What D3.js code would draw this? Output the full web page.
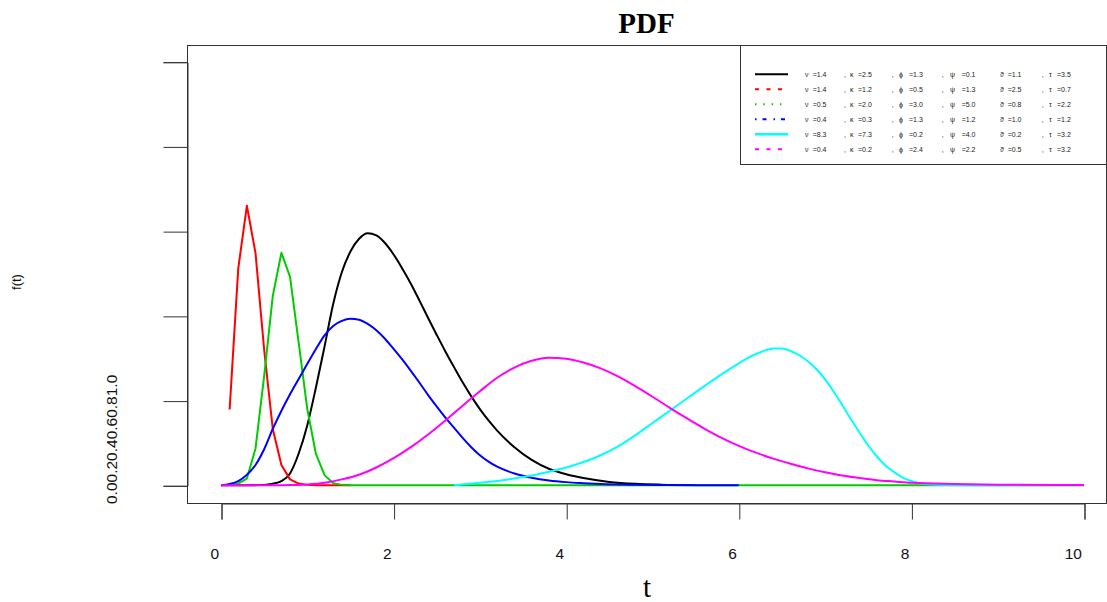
<!DOCTYPE html>
<html>
<head>
<meta charset="utf-8">
<script src="https://cdn.jsdelivr.net/npm/d3@7"></script>
<style>
  html, body { margin: 0; padding: 0; background: #fff; }
  svg { display: block; }
</style>
</head>
<body>
<svg id="chart" width="1107" height="602"></svg>
<script>
// ---- data ----
const xTicks = [0, 2, 4, 6, 8, 10];
const yTicks = [0, 0.2, 0.4, 0.6, 0.8, 1.0];
const yTickText = "0.00.20.40.60.81.0";

const tBlack = [0, 0.3, 0.5, 0.6, 0.7, 0.8, 0.9, 1.0, 1.1, 1.2, 1.3, 1.4, 1.5, 1.6, 1.7, 1.8, 1.9, 2.0, 2.1, 2.2, 2.3, 2.4, 2.5, 2.6, 2.7, 2.8, 2.9, 3.0, 3.1, 3.2, 3.4, 3.6, 3.8, 4.0, 4.2, 4.5, 4.8, 5.1, 5.5];
const vBlack = [0, 0, 0.001, 0.004, 0.010, 0.028, 0.075, 0.142, 0.231, 0.328, 0.428, 0.503, 0.552, 0.582, 0.595, 0.590, 0.572, 0.545, 0.512, 0.476, 0.436, 0.395, 0.355, 0.316, 0.279, 0.243, 0.210, 0.180, 0.153, 0.129, 0.090, 0.060, 0.039, 0.026, 0.017, 0.008, 0.0035, 0.0015, 0.0005];

const tRed = [0.1, 0.2, 0.3, 0.4, 0.5, 0.6, 0.7, 0.8, 0.9, 1.0, 1.1, 1.2, 1.3, 1.4, 1.5];
const vRed = [0.179, 0.512, 0.660, 0.548, 0.320, 0.133, 0.048, 0.014, 0.004, 0.001, 0, 0, 0, 0, 0];

const tGreen = [0, 0.1, 0.2, 0.3, 0.4, 0.5, 0.6, 0.7, 0.8, 0.9, 1.0, 1.1, 1.2, 1.3, 1.4, 1.5, 10];
const vGreen = [0, 0.0005, 0.004, 0.016, 0.087, 0.258, 0.447, 0.549, 0.492, 0.337, 0.180, 0.074, 0.024, 0.005, 0.001, 0, 0];

const tBlue = [0, 0.1, 0.2, 0.3, 0.4, 0.5, 0.6, 0.7, 0.8, 0.9, 1.0, 1.1, 1.2, 1.3, 1.4, 1.5, 1.6, 1.7, 1.8, 1.9, 2.0, 2.1, 2.2, 2.3, 2.4, 2.5, 2.6, 2.7, 2.8, 2.9, 3.0, 3.1, 3.2, 3.4, 3.6, 3.8, 4.0, 4.2, 4.4, 4.8, 5.2, 6.0];
const vBlue = [0, 0.003, 0.010, 0.025, 0.048, 0.085, 0.133, 0.176, 0.215, 0.251, 0.287, 0.322, 0.354, 0.376, 0.388, 0.393, 0.391, 0.381, 0.366, 0.346, 0.322, 0.297, 0.270, 0.242, 0.213, 0.186, 0.160, 0.136, 0.112, 0.090, 0.071, 0.056, 0.044, 0.028, 0.018, 0.0115, 0.0075, 0.005, 0.003, 0.0012, 0.0005, 0];

const tCyan = [2.7, 2.85, 3.0, 3.2, 3.4, 3.6, 3.8, 4.0, 4.2, 4.4, 4.6, 4.8, 5.0, 5.2, 5.4, 5.6, 5.8, 6.0, 6.1, 6.2, 6.3, 6.4, 6.5, 6.6, 6.7, 6.8, 6.9, 7.0, 7.1, 7.2, 7.3, 7.4, 7.5, 7.6, 7.7, 7.8, 7.9, 8.0, 8.1, 8.2, 8.4, 8.7, 10];
const vCyan = [0, 0.003, 0.006, 0.010, 0.016, 0.023, 0.032, 0.042, 0.055, 0.071, 0.092, 0.118, 0.147, 0.176, 0.205, 0.234, 0.262, 0.288, 0.300, 0.310, 0.318, 0.323, 0.323, 0.317, 0.307, 0.293, 0.274, 0.250, 0.221, 0.189, 0.156, 0.124, 0.094, 0.068, 0.047, 0.031, 0.018, 0.010, 0.005, 0.0025, 0.0005, 0, 0];

const tMagenta = [0, 0.6, 0.8, 1.0, 1.2, 1.4, 1.6, 1.8, 2.0, 2.2, 2.4, 2.6, 2.8, 3.0, 3.2, 3.4, 3.6, 3.8, 4.0, 4.2, 4.4, 4.6, 4.8, 5.0, 5.2, 5.4, 5.6, 5.8, 6.0, 6.2, 6.4, 6.6, 6.8, 7.0, 7.2, 7.4, 7.6, 7.8, 8.0, 8.5, 9.0, 10];
const vMagenta = [0, 0, 0.0005, 0.002, 0.006, 0.014, 0.025, 0.042, 0.064, 0.090, 0.120, 0.153, 0.188, 0.222, 0.254, 0.278, 0.294, 0.301, 0.299, 0.290, 0.276, 0.257, 0.234, 0.209, 0.183, 0.158, 0.134, 0.112, 0.093, 0.077, 0.063, 0.051, 0.040, 0.031, 0.023, 0.017, 0.012, 0.009, 0.006, 0.003, 0.0015, 0.0005];

const paramSymbols = ["ν", "κ", "ϕ", "ψ", "ϑ", "τ"];
const paramNu      = [1.4, 1.4, 0.5, 0.4, 8.3, 0.4];
const paramKappa   = [2.5, 1.2, 2.0, 0.3, 7.3, 0.2];
const paramPhi     = [1.3, 0.5, 3.0, 1.3, 0.2, 2.4];
const paramPsi     = [0.1, 1.3, 5.0, 1.2, 4.0, 2.2];
const paramTheta   = [1.1, 2.5, 0.8, 1.0, 0.2, 0.5];
const paramTau     = [3.5, 0.7, 2.2, 1.2, 3.2, 3.2];

const seriesColors = ["#000000", "#FF0000", "#00CD00", "#0000FF", "#00FFFF", "#FF00FF"];
const legendDash = [null, "4,7.5", "1.5,6.8", "1.5,6,4,7", null, "4,7.5"];

// ---- build ----
const svg = d3.select("#chart");
const sans = "'Liberation Sans', Arial, sans-serif";
const serif = "'Liberation Serif', 'Times New Roman', serif";

const x = d3.scaleLinear().domain([0, 10]).range([221, 1084]);
const y = d3.scaleLinear().domain([0, 1]).range([485.3, 61.7]);

const box = { x0: 187, x1: 1106, y0: 45, y1: 503 };

const series = [
  { t: tBlack, v: vBlack, curve: d3.curveMonotoneX },
  { t: tRed, v: vRed, curve: d3.curveLinear },
  { t: tGreen, v: vGreen, curve: d3.curveLinear },
  { t: tBlue, v: vBlue, curve: d3.curveMonotoneX },
  { t: tCyan, v: vCyan, curve: d3.curveMonotoneX },
  { t: tMagenta, v: vMagenta, curve: d3.curveMonotoneX }
].map((s, i) => ({ ...s, color: seriesColors[i], pts: s.t.map((tt, j) => [tt, s.v[j]]) }));

// density curves
series.forEach(s => {
  const line = d3.line().x(d => x(d[0])).y(d => y(d[1])).curve(s.curve);
  svg.append("path")
    .attr("d", line(s.pts))
    .attr("fill", "none")
    .attr("stroke", s.color)
    .attr("stroke-width", 2)
    .attr("stroke-linejoin", "round");
});

// plot frame
svg.append("rect")
  .attr("x", box.x0 + 0.5).attr("y", box.y0 + 0.5)
  .attr("width", box.x1 - box.x0).attr("height", box.y1 - box.y0)
  .attr("fill", "none").attr("stroke", "#333").attr("stroke-width", 1);

// x axis
const xAxis = d3.axisBottom(x).tickValues(xTicks).tickSize(16).tickFormat("");
const gx = svg.append("g").attr("transform", `translate(0.5,${box.y1 + 0.5})`).call(xAxis);
gx.select(".domain").attr("stroke", "#333");
gx.selectAll(".tick line").attr("stroke", "#333");
gx.selectAll(".tick").append("text")
  .attr("x", -3).attr("y", 55)
  .attr("text-anchor", "end")
  .attr("fill", "#111")
  .style("font-family", sans).style("font-size", "15.5px")
  .text(d => d);

// y axis
const yAxis = d3.axisLeft(y).tickValues(yTicks).tickSize(24).tickFormat("");
const gy = svg.append("g").attr("transform", `translate(${box.x0 + 0.5},0.5)`).call(yAxis);
gy.select(".domain").attr("stroke", "#333");
gy.selectAll(".tick line").attr("stroke", "#333");

svg.append("text")
  .attr("transform", "translate(117,504) rotate(-90)")
  .attr("text-anchor", "start")
  .attr("fill", "#111")
  .style("font-family", sans).style("font-size", "15.5px")
  .text(yTickText);

// axis titles and main title
svg.append("text")
  .attr("transform", "translate(21,282) rotate(-90)")
  .attr("text-anchor", "middle")
  .attr("fill", "#111")
  .style("font-family", sans).style("font-size", "13px")
  .text("f(t)");

svg.append("text")
  .attr("x", 647).attr("y", 597)
  .attr("text-anchor", "middle")
  .attr("fill", "#000")
  .style("font-family", serif).style("font-size", "29px")
  .text("t");

svg.append("text")
  .attr("x", 646.5).attr("y", 33)
  .attr("text-anchor", "middle")
  .attr("fill", "#000")
  .style("font-family", serif).style("font-size", "29px").style("font-weight", "bold")
  .text("PDF");

// legend
const lg = svg.append("g").attr("transform", "translate(740,45)");
lg.append("rect")
  .attr("x", 0.5).attr("y", 0.5).attr("width", 366).attr("height", 119)
  .attr("fill", "#fff").attr("stroke", "#333").attr("stroke-width", 1);

const paramValues = [paramNu, paramKappa, paramPhi, paramPsi, paramTheta, paramTau];
const symX = [65, 110, 159, 210, 260, 309];
const valX = [72.7, 118, 169, 221.7, 267.7, 317];
const commaX = [null, 104, 151.7, 201.7, null, 301.7];

series.forEach((s, i) => {
  const ry = 29.3 + i * 15;
  lg.append("line")
    .attr("x1", 15).attr("x2", 48).attr("y1", ry).attr("y2", ry)
    .attr("stroke", s.color)
    .attr("stroke-width", i === 4 ? 2.6 : 2)
    .attr("stroke-dasharray", legendDash[i]);
  paramSymbols.forEach((sym, k) => {
    const txt = lg.append("g").style("font-family", sans).style("font-size", "7px").attr("fill", "#222");
    if (commaX[k] !== null) {
      txt.append("text").attr("x", commaX[k]).attr("y", ry + 2.5).text(",");
    }
    txt.append("text").attr("x", symX[k]).attr("y", ry + 2.5).text(sym);
    txt.append("text").attr("x", valX[k]).attr("y", ry + 2.5).text("=" + paramValues[k][i].toFixed(1));
  });
});
</script>
</body>
</html>
